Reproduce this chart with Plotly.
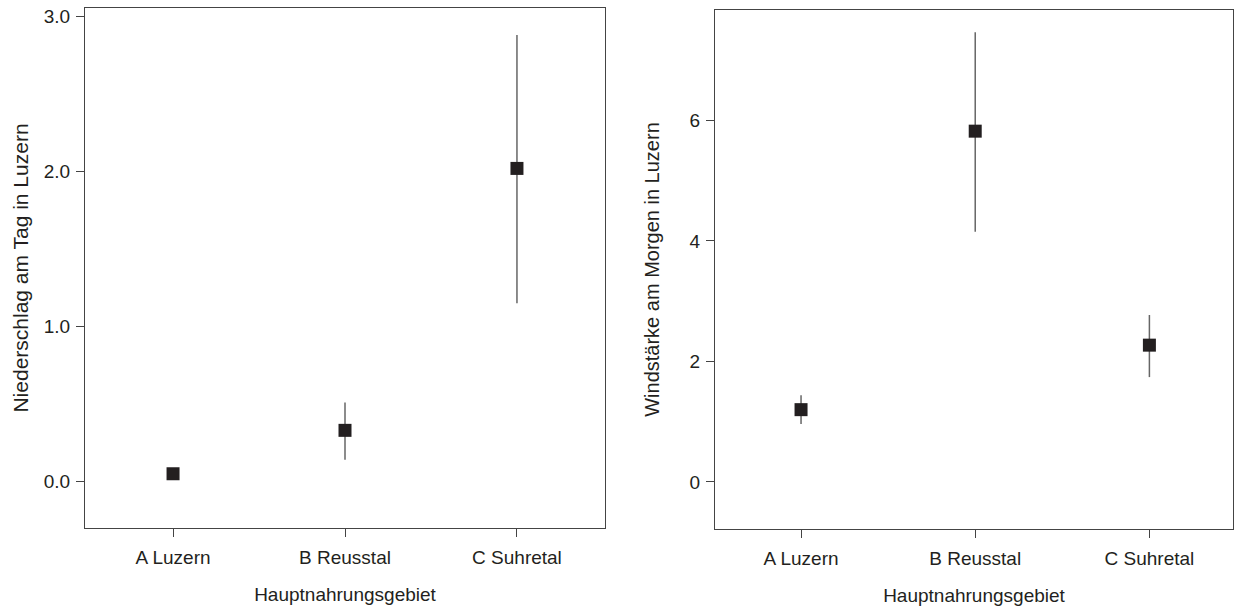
import plotly.graph_objects as go
from plotly.subplots import make_subplots

categories = ["A Luzern", "B Reusstal", "C Suhretal"]

# Left panel: Niederschlag am Tag in Luzern
rain_mean = [0.05, 0.33, 2.02]
rain_low = [0.05, 0.14, 1.15]
rain_high = [0.05, 0.51, 2.88]

# Right panel: Windstärke am Morgen in Luzern
wind_mean = [1.20, 5.82, 2.27]
wind_low = [0.96, 4.15, 1.74]
wind_high = [1.44, 7.46, 2.77]

x_title = "Hauptnahrungsgebiet"
y_title_left = "Niederschlag am Tag in Luzern"
y_title_right = "Windstärke am Morgen in Luzern"

W, H = 1239, 611
FONT = "Liberation Sans, Arial, sans-serif"
TXT = "#231f20"
AX = "#444444"
MK = "#231f20"
ERR = "#666666"


def dx(a, b):
    return [a / W, b / W]


def dy(top, bottom):
    return [1 - bottom / H, 1 - top / H]


fig = make_subplots(rows=1, cols=2)


def add_panel(mean, low, high, col):
    xs = list(range(len(categories)))
    for i in xs:
        if high[i] != low[i]:
            fig.add_trace(go.Scatter(x=[i, i], y=[low[i], high[i]], mode="lines",
                                     line=dict(color=ERR, width=1.5),
                                     showlegend=False, hoverinfo="skip"), row=1, col=col)
    fig.add_trace(go.Scatter(x=xs, y=mean, mode="markers",
                             marker=dict(symbol="square", size=13, color=MK),
                             showlegend=False), row=1, col=col)


add_panel(rain_mean, rain_low, rain_high, 1)
add_panel(wind_mean, wind_low, wind_high, 2)

axis_common = dict(showline=True, linecolor=AX, linewidth=1, mirror=True,
                   showgrid=False, zeroline=False, ticks="outside", ticklen=8,
                   tickcolor=AX, tickwidth=1, automargin=False,
                   tickfont=dict(family=FONT, size=19, color=TXT))

fig.update_layout(
    width=W, height=H,
    margin=dict(l=0, r=0, t=0, b=0),
    paper_bgcolor="white", plot_bgcolor="white",
    font=dict(family=FONT, size=19, color=TXT),
    showlegend=False,
    xaxis=dict(axis_common, domain=dx(85, 605), range=[-0.512, 2.512],
               tickmode="array", tickvals=[0, 1, 2], ticktext=categories,
               ticklabelstandoff=4,
               title=dict(text=x_title, standoff=20, font=dict(family=FONT, size=19, color=TXT))),
    yaxis=dict(axis_common, domain=dy(8, 528), range=[-0.30, 3.055],
               tickmode="array", tickvals=[0, 1, 2, 3], ticktext=["0.0", "1.0", "2.0", "3.0"],
               ticklabelstandoff=2,
               title=dict(text=y_title_left, standoff=9, font=dict(family=FONT, size=21, color=TXT))),
    xaxis2=dict(axis_common, domain=dx(715, 1233), range=[-0.494, 2.48],
                tickmode="array", tickvals=[0, 1, 2], ticktext=categories,
                ticklabelstandoff=4,
                title=dict(text=x_title, standoff=20, font=dict(family=FONT, size=19, color=TXT))),
    yaxis2=dict(axis_common, domain=dy(10, 529), range=[-0.78, 7.83],
                tickmode="array", tickvals=[0, 2, 4, 6], ticktext=["0", "2", "4", "6"],
                ticklabelstandoff=2,
                title=dict(text=y_title_right, standoff=24, font=dict(family=FONT, size=20, color=TXT))),
)

fig.write_html("out.html",
               config={"displayModeBar": False},
               post_script="document.body.style.margin='0';document.body.style.overflow='hidden';")
